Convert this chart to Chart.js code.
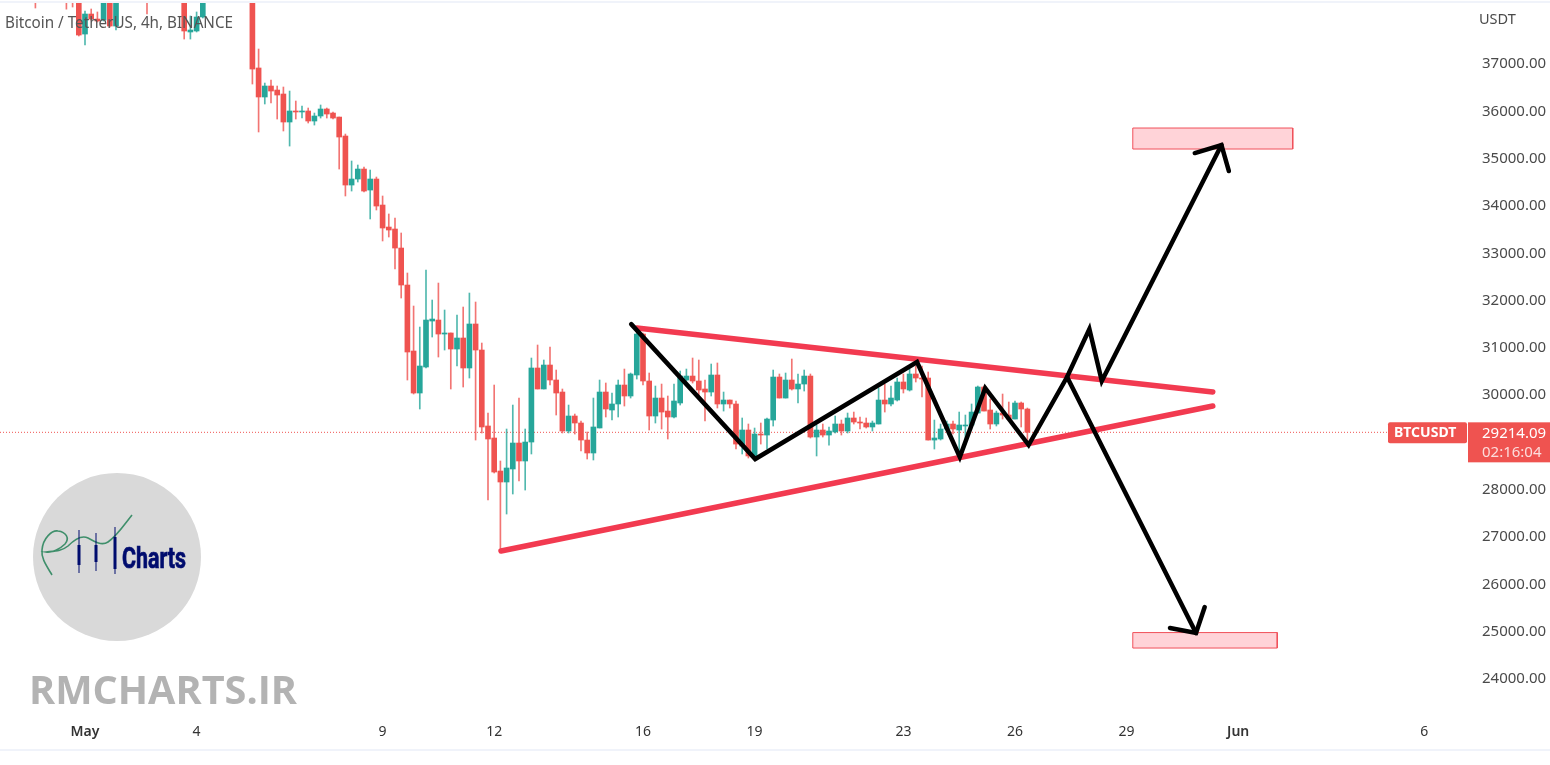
<!DOCTYPE html>
<html>
<head>
<meta charset="utf-8">
<title>BTCUSDT 4h</title>
<script src="https://cdn.jsdelivr.net/npm/chart.js@4"></script>
<style>
  html, body { margin: 0; padding: 0; background: #fff; }
  canvas { display: block; }
</style>
</head>
<body>
<canvas id="chart" width="1550" height="765"></canvas>
<script>
// x axis is counted in 4h candles from May 1 00:00
const earlySlots = [-8, -3, -2, -1, 0, 1, 2, 3, 4, 5, 10, 16, 17, 18, 19];
const firstRunSlot = 27; // slots run on without gaps from here to the last candle

const opens = [
  38700, 38700, 38600, 38700, 37634, 38057, 37951, 37930, 38500, 37803, 38700, 38700, 37677, 37698, 37994,
  38800, 36916, 36303, 36535, 36450, 36366, 35774, 36007, 35986, 36007, 35795, 35901, 36049, 35964, 35879,
  35478, 34442, 34569, 34780, 34336, 34569, 34019, 33554, 33512, 33110, 32328, 30933, 30045, 30595, 31567,
  31588, 31292, 31314, 30975, 31208, 30574, 31504, 30954, 29348, 29094, 28396, 28164, 28439, 28988, 28608,
  29009, 30574, 30130, 30637, 30320, 30066, 29242, 29559, 29411, 29051, 28777, 29306, 30066, 29686, 29813,
  30214, 29982, 30426, 31292, 30299, 29559, 29939, 29664, 29538, 29834, 30320, 30404, 30299, 30130, 30066,
  30426, 29813, 29897, 29813, 28924, 29263, 28714, 29178, 29157, 29474, 30383, 29939, 30320, 30130, 30235,
  30404, 29115, 29263, 29157, 29221, 29390, 29242, 29517, 29432, 29411, 29327, 29390, 29897, 29813, 29897,
  30278, 30108, 30447, 30362, 30362, 29051, 29073, 29284, 29390, 29263, 29348, 29369, 29622, 30172, 29686,
  29390, 29622, 29580, 29495, 29834, 29707
];
const highs = [
  39000, 38900, 38800, 38900, 38121, 38163, 38100, 38700, 38700, 38800, 38900, 38900, 38015, 38100, 38700,
  39000, 37317, 36598, 36662, 36535, 36514, 36429, 36218, 36113, 36070, 35964, 36134, 36070, 35985, 35879,
  35520, 34950, 34865, 34823, 34759, 34611, 34210, 33830, 33745, 33428, 32582, 31884, 31440, 32645, 32011,
  32370, 31800, 31314, 31694, 31863, 32159, 31969, 31102, 29622, 30214, 28608, 29284, 29791, 29939, 29284,
  30785, 31060, 30743, 31017, 30531, 30130, 29791, 29601, 29453, 29221, 29939, 30320, 30257, 30045, 30320,
  30552, 30468, 31356, 31314, 30468, 30193, 30235, 29982, 30235, 30510, 30552, 30785, 30743, 30320, 30658,
  30680, 30066, 29897, 29876, 29517, 29390, 29305, 29411, 29517, 30531, 30447, 30468, 30764, 30447, 30531,
  30447, 29369, 29390, 29327, 29559, 29474, 29622, 29643, 29538, 29517, 29453, 30151, 30235, 30193, 30362,
  30447, 30552, 30616, 30616, 30489, 29474, 29390, 29453, 29453, 29643, 29580, 29813, 30193, 30193, 29918,
  29664, 30024, 29855, 29876, 29855, 29728
];
const lows = [
  38184, 38160, 38205, 37592, 37402, 37930, 37888, 37909, 37782, 37719, 38057, 37528, 37528, 37677, 37973,
  36577, 35563, 36155, 36176, 35837, 35584, 35266, 35837, 35858, 35753, 35710, 35858, 35858, 35837, 34780,
  34210, 34315, 34506, 34294, 33724, 33914, 33259, 33343, 32666, 32053, 30320, 30024, 29707, 30574, 31229,
  30806, 30954, 30130, 30616, 30172, 30362, 29051, 29200, 27783, 28354, 26705, 27487, 27910, 28185, 27994,
  28756, 30130, 30130, 30214, 29580, 29200, 29200, 29178, 28819, 28650, 28629, 29306, 29538, 29474, 29538,
  29770, 29939, 30341, 30214, 29263, 29411, 29284, 29073, 29517, 29791, 30299, 30256, 29982, 29453, 29982,
  29728, 29664, 29728, 28861, 28756, 28671, 28650, 28966, 28861, 29347, 29939, 29939, 30108, 29834, 30087,
  29094, 28714, 29115, 28945, 29200, 29157, 29200, 29390, 29284, 29305, 29242, 29390, 29643, 29770, 29876,
  30045, 30087, 30278, 29960, 29051, 28861, 29051, 29242, 29178, 28819, 29030, 29348, 29622, 29664, 29284,
  29348, 29495, 29474, 29495, 29327, 29030
];
const closes = [
  38500, 38400, 38450, 37613, 38057, 37951, 37909, 38500, 37803, 38500, 38450, 37698, 37719, 37994, 38500,
  36894, 36303, 36535, 36429, 36345, 35774, 36007, 35986, 36007, 35795, 35901, 36049, 35943, 35858, 35457,
  34442, 34569, 34780, 34315, 34569, 33998, 33533, 33491, 33110, 32328, 30912, 30045, 30616, 31588, 31609,
  31292, 31314, 30975, 31208, 30574, 31504, 30954, 29327, 29073, 28375, 28164, 28460, 28988, 28608, 29009,
  30574, 30130, 30637, 30320, 30045, 29242, 29559, 29411, 29051, 28777, 29327, 30066, 29707, 29813, 30214,
  29982, 30447, 31292, 30299, 29559, 29939, 29643, 29538, 29876, 30404, 30404, 30299, 30108, 30066, 30426,
  29813, 29897, 29813, 28966, 29263, 28714, 29178, 29157, 29495, 30383, 29939, 30320, 30130, 30235, 30404,
  29115, 29263, 29157, 29242, 29390, 29242, 29517, 29432, 29411, 29327, 29411, 29897, 29813, 29939, 30278,
  30130, 30447, 30362, 30341, 29051, 29094, 29284, 29390, 29284, 29369, 29369, 29643, 30172, 29664, 29390,
  29622, 29580, 29495, 29834, 29707, 29214
];

// drawn objects: [slot, price] corners
const upperTrend = [[89.0, 31419], [181.9, 30066]];
const lowerTrend = [[67.1, 26705], [181.9, 29770]];
const zigzagPath = [[88.1, 31501], [108.1, 28650], [134.2, 30700], [141.1, 28692], [145.2, 30151], [152.2, 28946], [158.4, 30383], [162.0, 31398], [164.0, 30299], [183.3, 35287]];
const upperArrowHead = [[179.0, 35118], [183.3, 35287], [184.5, 34738]];
const downBranch = [[158.4, 30383], [179.2, 24971]];
const lowerArrowHead = [[175.0, 25077], [179.2, 24971], [180.6, 25521]];
const targetHigh = [[169.0, 35647], [194.8, 35647], [194.8, 35203], [169.0, 35203], [169.0, 35647]];
const targetLow = [[169.0, 24981], [192.3, 24981], [192.3, 24654], [169.0, 24654], [169.0, 24981]];

const dayTicks = [0, 18, 48, 66, 90, 108, 132, 150, 168, 186, 216];
const dayLabels = ["May", "4", "9", "12", "16", "19", "23", "26", "29", "Jun", "6"];
const priceTicks = [24000, 25000, 26000, 27000, 28000, 29000, 30000, 31000, 32000, 33000, 34000, 35000, 36000, 37000];
const hiddenPriceTick = 29000; // covered by the price tag in the reference
const lastPrice = 29214.09;
const countdown = "02:16:04";
const symbolName = "BTCUSDT";
const legendText = "Bitcoin / TetherUS, 4h, BINANCE";
const currencyName = "USDT";
const watermark = "RMCHARTS.IR";
const logoWord = "Charts";

const RED = "#ef5350";
const GREEN = "#26a69a";
const TREND = "#f23a50";
const UI_FONT = '"Noto Sans", sans-serif';

const slots = earlySlots.concat(
  opens.slice(earlySlots.length).map((_, i) => firstRunSlot + i)
);
const candleColor = opens.map((o, i) => (closes[i] >= o ? GREEN : RED));
const wickColor = opens.map((o, i) => (closes[i] >= o ? "rgba(38,166,154,0.8)" : "rgba(239,83,80,0.8)"));
const toPoints = (arr) => arr.map((p) => ({ x: p[0], y: p[1] }));

function lineSet(points, color, width, order) {
  return {
    type: "line",
    data: toPoints(points),
    borderColor: color,
    borderWidth: width,
    pointRadius: 0,
    tension: 0,
    borderCapStyle: "round",
    borderJoinStyle: "miter",
    order,
  };
}

function boxSet(points) {
  return {
    type: "line",
    data: toPoints(points),
    borderColor: "#f0505a",
    borderWidth: 1,
    backgroundColor: "#ffd3d8",
    fill: "shape",
    pointRadius: 0,
    tension: 0,
    order: 3,
  };
}

// everything that is not a data mark: tags, legend, logo, watermark
const decorations = {
  id: "decorations",
  beforeDraw(chart) {
    const c = chart.ctx;
    c.save();
    c.fillStyle = "#f0f3fa";
    c.fillRect(0, 1, 1550, 2);
    c.fillRect(0, 749, 1550, 2);
    c.restore();
  },
  afterDraw(chart) {
    const c = chart.ctx;
    const y = chart.scales.y.getPixelForValue(lastPrice);
    c.save();

    c.fillStyle = "#555";
    c.font = "15.5px " + UI_FONT;
    c.textBaseline = "middle";
    c.textAlign = "left";
    c.fillText(legendText, 5, 24, 228);

    c.fillStyle = "#4a4a4a";
    c.font = "14.5px " + UI_FONT;
    c.fillText(currencyName, 1479, 20);

    c.fillStyle = RED;
    c.beginPath();
    c.roundRect(1388, y - 10, 79, 21, 2);
    c.fill();
    c.fillRect(1468, y - 10, 82, 40);
    c.fillStyle = "#fff";
    c.font = "bold 14px " + UI_FONT;
    c.fillText(symbolName, 1394, y + 1);
    c.font = "15px " + UI_FONT;
    c.fillText(lastPrice.toFixed(2), 1482, y + 1);
    c.fillStyle = "rgba(255,255,255,0.8)";
    c.fillText(countdown, 1482, y + 20);

    c.fillStyle = "#d9d9d9";
    c.beginPath();
    c.arc(117, 557, 84, 0, Math.PI * 2);
    c.fill();

    c.strokeStyle = "#3f8f6b";
    c.lineWidth = 1.6;
    c.beginPath();
    c.moveTo(52, 575);
    c.bezierCurveTo(46, 565, 41, 558, 42, 550);
    c.bezierCurveTo(43, 538, 52, 530, 58, 531);
    c.bezierCurveTo(66, 532, 70, 538, 65, 544);
    c.bezierCurveTo(60, 549, 52, 553, 46, 552);
    c.bezierCurveTo(55, 551, 62, 551, 68, 546);
    c.bezierCurveTo(74, 540, 82, 535, 88, 538);
    c.bezierCurveTo(95, 542, 102, 546, 108, 542);
    c.bezierCurveTo(117, 536, 124, 525, 132, 515);
    c.stroke();

    c.fillStyle = "#000c6e";
    c.strokeStyle = "#000c6e";
    [[79, 530, 573, 545, 565], [96, 533, 571, 545, 562], [115, 527, 574, 537, 569]].forEach((k) => {
      c.fillRect(k[0] - 0.5, k[1], 1, k[2] - k[1]);
      c.fillRect(k[0] - 1.5, k[3], 3, k[4] - k[3]);
    });
    c.font = "bold 29px Roboto, sans-serif";
    c.textBaseline = "alphabetic";
    c.lineWidth = 0.7;
    c.fillText(logoWord, 122, 568, 64);
    c.strokeText(logoWord, 122, 568, 64);

    c.fillStyle = "#b3b3b3";
    c.font = 'bold 40px "Open Sans", sans-serif';
    c.fillText(watermark, 29, 704, 268);

    c.restore();
  },
};

const chart = new Chart(document.getElementById("chart").getContext("2d"), {
  type: "bar",
  data: {
    datasets: [
      {
        label: "wicks",
        data: slots.map((s, i) => ({ x: s, y: [lows[i], highs[i]] })),
        backgroundColor: wickColor,
        barThickness: 1,
        grouped: false,
        order: 11,
      },
      {
        label: "bodies",
        data: slots.map((s, i) => ({ x: s, y: [opens[i], closes[i]] })),
        backgroundColor: candleColor,
        barThickness: 5,
        minBarLength: 1,
        grouped: false,
        order: 10,
      },
      {
        type: "line",
        label: "last price",
        data: [{ x: -13.71, y: lastPrice }, { x: 210, y: lastPrice }],
        borderColor: RED,
        borderWidth: 1,
        borderDash: [1, 2],
        pointRadius: 0,
        order: 12,
      },
      boxSet(targetHigh),
      boxSet(targetLow),
      lineSet(upperTrend, TREND, 5.5, 2),
      lineSet(lowerTrend, TREND, 5.5, 2),
      lineSet(zigzagPath, "#000", 4.5, 1),
      lineSet(upperArrowHead, "#000", 4.5, 1),
      lineSet(downBranch, "#000", 4.5, 1),
      lineSet(lowerArrowHead, "#000", 4.5, 1),
    ],
  },
  options: {
    responsive: false,
    animation: false,
    events: [],
    layout: { padding: { top: 3, bottom: 15, left: 0, right: 0 } },
    plugins: { legend: { display: false }, tooltip: { enabled: false } },
    scales: {
      x: {
        type: "linear",
        offset: false,
        min: -13.71,
        max: 223.39,
        grid: { display: false, drawTicks: false },
        border: { display: false },
        afterBuildTicks(axis) {
          axis.ticks = dayTicks.map((v) => ({ value: v }));
        },
        afterFit(axis) {
          axis.height = 32;
          axis.paddingLeft = 0;
          axis.paddingRight = 0;
        },
        ticks: {
          autoSkip: false,
          maxRotation: 0,
          padding: 6,
          color: "#333",
          font: (ctx) => ({
            family: UI_FONT,
            size: 14,
            weight: ctx.tick && (ctx.tick.value === 0 || ctx.tick.value === 186) ? "600" : "400",
          }),
          callback: (v) => dayLabels[dayTicks.indexOf(v)],
        },
      },
      y: {
        position: "right",
        min: 23175,
        max: 38290,
        grid: { display: false, drawTicks: false },
        border: { display: false },
        afterBuildTicks(axis) {
          axis.ticks = priceTicks.map((v) => ({ value: v }));
        },
        afterFit(axis) {
          axis.width = 80;
          axis.paddingTop = 0;
          axis.paddingBottom = 0;
        },
        ticks: {
          autoSkip: false,
          padding: 12,
          color: "#4a4a4a",
          font: { family: UI_FONT, size: 15 },
          callback: (v) => (v === hiddenPriceTick ? "" : v.toFixed(2)),
        },
      },
    },
  },
  plugins: [decorations],
});
</script>
</body>
</html>
